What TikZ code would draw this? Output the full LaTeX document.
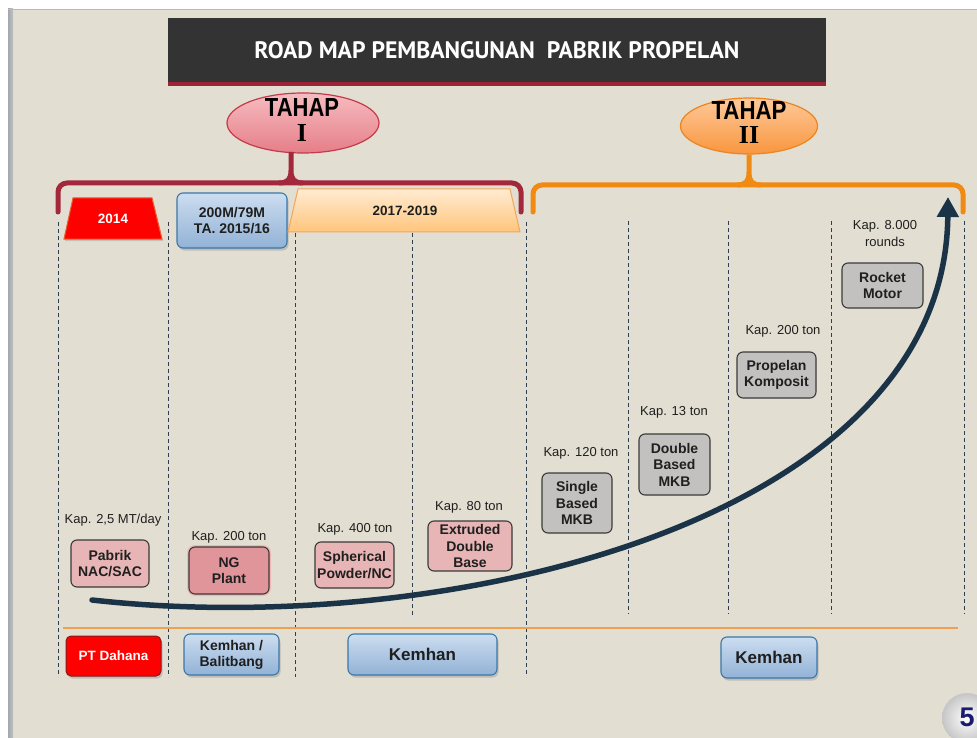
\documentclass[tikz,border=0pt]{standalone}
\usepackage{graphicx}
\usepackage{fontspec}
\setmainfont{Liberation Sans}
\newfontfamily\titlefont{PT Sans}
\newfontfamily\romanfont{Liberation Serif}
\usetikzlibrary{shapes.geometric,shadows,arrows.meta}

\definecolor{canvas}{HTML}{E3DED2}
\definecolor{frameedge}{HTML}{A4A8AC}
\definecolor{titlebg}{HTML}{333333}
\definecolor{titleshade}{HTML}{9C2436}
\definecolor{braceone}{HTML}{A3283C}
\definecolor{bracetwo}{HTML}{F08A12}
\definecolor{guide}{HTML}{2C3E50}
\definecolor{sepcolor}{HTML}{F0A050}
\definecolor{inktext}{HTML}{1F1F1F}
\definecolor{pinkfill}{HTML}{E7B5B6}
\definecolor{pinkdeep}{HTML}{E0959B}
\definecolor{greyfill}{HTML}{C2C1BF}
\definecolor{boxedge}{HTML}{3A3A3A}
\definecolor{bluetop}{HTML}{CCDDF0}
\definecolor{bluebot}{HTML}{92B2D6}
\definecolor{blueedge}{HTML}{3A78A8}
\definecolor{roadline}{HTML}{1B3347}
\definecolor{badgeink}{HTML}{1A1A6E}
\definecolor{ovalonetop}{HTML}{F6BCC0}
\definecolor{ovalonebot}{HTML}{E67E88}
\definecolor{ovaloneedge}{HTML}{C43A4C}
\definecolor{ovaltwotop}{HTML}{FFC99A}
\definecolor{ovaltwobot}{HTML}{F8963E}
\definecolor{ovaltwoedge}{HTML}{EC8420}
\definecolor{yearedge}{HTML}{E8602C}
\definecolor{spanedge}{HTML}{F2A65A}
\definecolor{spantop}{HTML}{FFEBD2}
\definecolor{spanbot}{HTML}{FFC57C}
\definecolor{dahanaedge}{HTML}{8A1A1A}

\tikzset{
  guideline/.style={draw=guide, line width=1pt, dash pattern=on 4pt off 3pt},
  bracestroke/.style={line width=5pt, rounded corners=9pt, line cap=round},
  sepline/.style={draw=sepcolor, line width=1.3pt},
  caplabel/.style={text=inktext, inner sep=0pt, align=center,
    font=\fontsize{13}{17}\selectfont},
  stagebox/.style={rounded corners=6pt, draw=boxedge, line width=1.1pt,
    text=inktext, inner sep=0pt, align=center,
    font=\fontsize{14}{16.5}\selectfont\bfseries},
  pinkbox/.style={stagebox, fill=pinkfill},
  greybox/.style={stagebox, fill=greyfill},
  bluebox/.style={rounded corners=6pt, draw=blueedge, line width=1.1pt,
    top color=bluetop, bottom color=bluebot, text=inktext, inner sep=0pt,
    align=center, font=\fontsize{14}{16}\selectfont\bfseries,
    drop shadow={opacity=0.35, shadow xshift=1.5pt, shadow yshift=-2.5pt}},
  yearfont/.style={font=\fontsize{13.5}{16}\selectfont\bfseries},
  ovaltext/.style={anchor=base, inner sep=0pt, text=black}
}

\begin{document}
\begin{tikzpicture}[x=1pt,y=-1pt]
\useasboundingbox (0,0) rectangle (977,738);

% page and slide frame
\fill[white] (0,0) rectangle (977,738);
\fill[canvas] (8,9) rectangle (977,738);
\shade[left color=frameedge, right color=frameedge!70] (8,9) rectangle (13,738);
\draw[frameedge!80, line width=1pt] (8,9.5) -- (977,9.5);

% title bar
\fill[titleshade] (168,21) rectangle (826,86);
\node[fill=titlebg, minimum width=658pt, minimum height=64pt, inner sep=0pt,
      text=white] (title) at (497,50)
  {\resizebox{485pt}{17pt}{\titlefont\bfseries ROAD MAP PEMBANGUNAN\ \ PABRIK PROPELAN}};

% stage ellipses
\node[ellipse, minimum width=152pt, minimum height=60pt, inner sep=0pt,
      draw=ovaloneedge, line width=1.2pt, top color=ovalonetop,
      bottom color=ovalonebot] (tahapone) at (303,123) {};
\node[ovaltext] (tahaponeword) at (302,117) {\resizebox{74pt}{18pt}{\bfseries TAHAP}};
\node[ovaltext] (tahaponenum) at (302,142) {\resizebox{!}{17pt}{\romanfont\bfseries I}};

\node[ellipse, minimum width=137pt, minimum height=56pt, inner sep=0pt,
      draw=ovaltwoedge, line width=1.2pt, top color=ovaltwotop,
      bottom color=ovaltwobot] (tahaptwo) at (749,126) {};
\node[ovaltext] (tahaptwoword) at (749,120) {\resizebox{75pt}{18pt}{\bfseries TAHAP}};
\node[ovaltext] (tahaptwonum) at (749,144) {\resizebox{!}{17pt}{\romanfont\bfseries II}};

% braces grouping the columns
\draw[bracestroke, draw=braceone] (58,212) -- (58,183) -- (521,183) -- (521,212);
\draw[line width=5pt, draw=braceone]
  (279,183) .. controls (288,183) and (291,179) .. (291,170) -- (291,152)
  (303,183) .. controls (294,183) and (291,179) .. (291,170);
\draw[bracestroke, draw=bracetwo] (533,212) -- (533,185) -- (963,185) -- (963,212);
\draw[line width=5pt, draw=bracetwo]
  (737,185) .. controls (746,185) and (749,181) .. (749,172) -- (tahaptwo.south)
  (761,185) .. controls (752,185) and (749,181) .. (749,172);

% column guides
\foreach \gx in {58,168,526}
  \draw[guideline] (\gx,222) -- (\gx,677);
\draw[guideline] (295,233) -- (295,677);
\draw[guideline] (412,233) -- (412,617);
\foreach \gx in {628,728,831,964}
  \draw[guideline] (\gx,221) -- (\gx,614);

% separator above the institutions
\draw[sepline] (63,628) -- (958,628);

% period headers
\path[fill=red, draw=yearedge, line width=1pt,
      drop shadow={opacity=0.3, shadow xshift=1pt, shadow yshift=-2pt}]
  (73,198) -- (152,198) -- (162,239) -- (64,239) -- cycle;
\node[yearfont, text=white] (yearone) at (113,219) {2014};

\node[bluebox, minimum width=110pt, minimum height=55pt] (yeartwo) at (232,220.5)
  {200M/79M\\TA. 2015/16};

\path[draw=spanedge, line width=1pt, top color=spantop, bottom color=spanbot]
  (298,189) -- (510,189) -- (520,232) -- (288,232) -- cycle;
\node[yearfont, text=inktext] (yearthree) at (405,211) {2017-2019};

% capacities
\node[caplabel] (capa) at (113,520) {Kap. 2,5 MT/day};
\node[caplabel] (capb) at (229,537) {Kap. 200 ton};
\node[caplabel] (capc) at (355,529) {Kap. 400 ton};
\node[caplabel] (capd) at (469,507) {Kap. 80 ton};
\node[caplabel] (cape) at (581,453) {Kap. 120 ton};
\node[caplabel] (capf) at (674,412) {Kap. 13 ton};
\node[caplabel] (capg) at (783,331) {Kap. 200 ton};
\node[caplabel] (caph) at (885,234) {Kap. 8.000\\rounds};

% plants, stage one
\node[pinkbox, minimum width=78pt, minimum height=47pt] (nac) at (110,563.5)
  {Pabrik\\NAC/SAC};
\node[pinkbox, fill=pinkdeep, minimum width=80pt, minimum height=47pt,
      preaction={draw=red!45, line width=4pt, opacity=0.45}] (ng) at (229,570.5)
  {NG\\Plant};
\node[pinkbox, minimum width=79pt, minimum height=46pt] (sph) at (354.5,565)
  {Spherical\\Powder/NC};
\node[pinkbox, minimum width=84pt, minimum height=50pt] (edb) at (470,546)
  {Extruded\\Double\\Base};

% plants, stage two
\node[greybox, minimum width=70pt, minimum height=60pt] (sbm) at (577,503)
  {Single\\Based\\MKB};
\node[greybox, minimum width=71pt, minimum height=61pt] (dbm) at (674.5,464.5)
  {Double\\Based\\MKB};
\node[greybox, minimum width=79pt, minimum height=46pt] (pk) at (776.5,375)
  {Propelan\\Komposit};
\node[greybox, minimum width=81pt, minimum height=45pt] (rm) at (882.5,285.5)
  {Rocket\\Motor};

% growth curve
\coordinate (roadstart) at (92,600);
\coordinate (roadend) at (948,197);
\draw[line width=5.5pt, draw=roadline, line cap=round,
      -{Triangle[length=20pt,width=21pt]}]
  (roadstart) .. controls (450,640) and (945,520) .. (roadend);

% institutions
\node[rounded corners=5pt, draw=dahanaedge, line width=1pt, fill=red,
      text=white, inner sep=0pt, minimum width=95pt, minimum height=40pt,
      font=\fontsize{13.5}{16}\selectfont\bfseries,
      drop shadow={opacity=0.35, shadow xshift=1.5pt, shadow yshift=-2.5pt}]
  (dahana) at (113.5,656) {PT Dahana};
\node[bluebox, minimum width=95pt, minimum height=41pt] (balit) at (231.5,654.5)
  {Kemhan /\\Balitbang};
\node[bluebox, minimum width=149pt, minimum height=41pt,
      font=\fontsize{17}{20}\selectfont\bfseries] (kemone) at (422.5,654.5) {Kemhan};
\node[bluebox, minimum width=96pt, minimum height=41pt,
      font=\fontsize{17}{20}\selectfont\bfseries] (kemtwo) at (769,657.5) {Kemhan};

% page badge
\begin{scope}
  \clip (0,0) rectangle (977,738);
  \shade[inner color=white, outer color=gray!45] (967,718) circle (25pt);
  \node[text=badgeink, font=\fontsize{27}{30}\selectfont\bfseries, inner sep=0pt]
    (badge) at (967,717) {5};
\end{scope}
\end{tikzpicture}
\end{document}
